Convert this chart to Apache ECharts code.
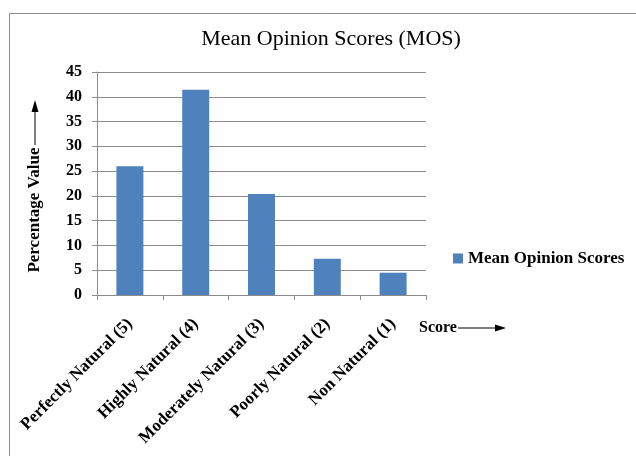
<!DOCTYPE html>
<html>
<head>
<meta charset="utf-8">
<script src="https://cdn.jsdelivr.net/npm/echarts@6/dist/echarts.min.js"></script>
<style>
  html, body { margin: 0; padding: 0; background: #fff; }
  #chart { width: 636px; height: 456px; }
</style>
</head>
<body>
<div id="chart"></div>
<script>
// Score categories along the x axis
const categories = [
  'Perfectly Natural (5)',
  'Highly Natural (4)',
  'Moderately Natural (3)',
  'Poorly Natural (2)',
  'Non Natural (1)'
];
// Percentage of listeners giving each score
const mosValues = [26, 41.4, 20.4, 7.3, 4.5];
// Value axis range and step
const yMin = 0;
const yMax = 45;
const yStep = 5;

const serif = '"Liberation Serif", "Times New Roman", serif';
const gridColor = '#8c8c8c';
const barColor = '#4f81bd';

const chart = echarts.init(document.getElementById('chart'), null, { renderer: 'canvas' });

chart.setOption({
  backgroundColor: '#fff',
  animation: false,
  title: {
    text: 'Mean Opinion Scores (MOS)',
    left: 326,
    top: 23,
    textAlign: 'center',
    textStyle: { fontFamily: serif, fontWeight: 'normal', fontSize: 22, color: '#000' }
  },
  legend: {
    data: ['Mean Opinion Scores'],
    left: 448,
    top: 245,
    icon: 'rect',
    itemWidth: 10,
    itemHeight: 10,
    textStyle: { fontFamily: serif, fontWeight: 'bold', fontSize: 17, color: '#000' }
  },
  grid: { left: 97, right: 210, top: 72, bottom: 161, containLabel: false },
  xAxis: {
    type: 'category',
    data: categories,
    boundaryGap: true,
    axisLine: { lineStyle: { color: gridColor, width: 1 } },
    axisTick: { show: true, length: 5, alignWithLabel: false, lineStyle: { color: gridColor } },
    axisLabel: {
      interval: 0,
      rotate: 45,
      margin: 15,
      formatter: v => '{c|' + v + '}',
      rich: {
        c: {
          fontFamily: serif, fontWeight: 'bold', fontSize: 17, color: '#000',
          padding: [16, 8, 0, 0]
        }
      }
    }
  },
  yAxis: {
    type: 'value',
    min: yMin,
    max: yMax,
    interval: yStep,
    axisLine: { show: true, lineStyle: { color: gridColor, width: 1 } },
    axisTick: { show: true, length: 5, lineStyle: { color: gridColor } },
    splitLine: { show: true, lineStyle: { color: gridColor, width: 1 } },
    axisLabel: {
      margin: 15,
      fontFamily: serif, fontWeight: 'bold', fontSize: 16, color: '#000'
    }
  },
  series: [{
    name: 'Mean Opinion Scores',
    type: 'bar',
    data: mosValues,
    barWidth: '41%',
    itemStyle: { color: barColor }
  }],
  graphic: [
    // outer chart frame
    {
      type: 'rect', silent: true, z: -1,
      shape: { x: 9.5, y: 13.5, width: 700, height: 500 },
      style: { fill: 'none', stroke: gridColor, lineWidth: 1 }
    },
    // vertical axis caption with upward arrow
    {
      type: 'text', silent: true,
      x: 35, y: 210, rotation: Math.PI / 2,
      style: {
        text: 'Percentage Value', font: 'bold 17px ' + serif, fill: '#000',
        align: 'center', verticalAlign: 'middle'
      }
    },
    {
      type: 'line', silent: true,
      shape: { x1: 35, y1: 145, x2: 35, y2: 110 },
      style: { stroke: '#000', lineWidth: 1 }
    },
    {
      type: 'polygon', silent: true,
      shape: { points: [[35, 100], [31.5, 112], [38.5, 112]] },
      style: { fill: '#000' }
    },
    // horizontal axis caption with right arrow
    {
      type: 'text', silent: true,
      x: 419, y: 328,
      style: {
        text: 'Score', font: 'bold 16px ' + serif, fill: '#000',
        align: 'left', verticalAlign: 'middle'
      }
    },
    {
      type: 'line', silent: true,
      shape: { x1: 458, y1: 328, x2: 497, y2: 328 },
      style: { stroke: '#000', lineWidth: 1 }
    },
    {
      type: 'polygon', silent: true,
      shape: { points: [[506, 328], [495, 324.5], [495, 331.5]] },
      style: { fill: '#000' }
    }
  ]
});
</script>
</body>
</html>
